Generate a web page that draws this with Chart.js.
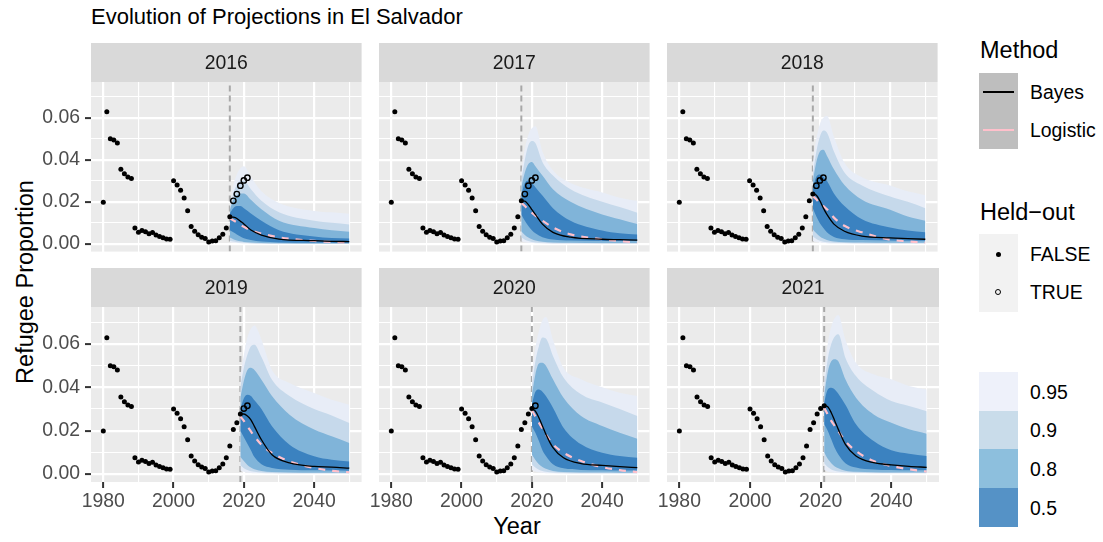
<!DOCTYPE html>
<html><head><meta charset="utf-8">
<script src="https://cdn.jsdelivr.net/npm/chart.js@4.4.1/dist/chart.umd.min.js"></script>
<style>
html,body{margin:0;padding:0;background:#fff;}
body{width:1103px;height:542px;position:relative;overflow:hidden;font-family:"Liberation Sans",Arial,Helvetica,sans-serif;}
canvas{position:absolute;}
.t{position:absolute;white-space:nowrap;color:#000;}
.box{position:absolute;}
</style></head><body>
<div class="t" id="title" style="left:91px;top:2px;font-size:22px;line-height:30px;">Evolution of Projections in El Salvador</div>
<div class="t" style="left:25px;top:282px;font-size:23.5px;line-height:28px;transform:translate(-50%,-50%) rotate(-90deg);">Refugee Proportion</div>
<div class="t" style="left:517px;top:526px;font-size:23.5px;line-height:28px;transform:translate(-50%,-50%);">Year</div>

<div class="t" style="left:980px;top:36px;font-size:23.5px;line-height:28px;">Method</div>
<div class="box" style="left:979px;top:73px;width:39px;height:76px;background:#bebebe;"></div>
<div class="box" style="left:983px;top:91px;width:31px;height:2px;background:#000;"></div>
<div class="box" style="left:983px;top:129px;width:31px;height:2px;background:#ffc0cb;"></div>
<div class="t" style="left:1030px;top:80px;font-size:19.4px;line-height:24px;">Bayes</div>
<div class="t" style="left:1030px;top:118px;font-size:19.4px;line-height:24px;">Logistic</div>

<div class="t" style="left:980px;top:198px;font-size:23.5px;line-height:28px;">Held&#8722;out</div>
<div class="box" style="left:979px;top:234px;width:39px;height:78px;background:#f2f2f2;"></div>
<div class="box" style="left:996px;top:252px;width:5px;height:5px;border-radius:50%;background:#000;"></div>
<div class="box" style="left:995px;top:289px;width:4px;height:4px;border-radius:50%;border:1.4px solid #000;"></div>
<div class="t" style="left:1030px;top:242px;font-size:19.4px;line-height:24px;">FALSE</div>
<div class="t" style="left:1030px;top:280px;font-size:19.4px;line-height:24px;">TRUE</div>

<div class="box" style="left:979px;top:372px;width:39px;height:39px;background:#eef1fa;"></div>
<div class="box" style="left:979px;top:411px;width:39px;height:38px;background:#c9dcea;"></div>
<div class="box" style="left:979px;top:449px;width:39px;height:39px;background:#8dbfdd;"></div>
<div class="box" style="left:979px;top:488px;width:39px;height:39px;background:#5592c6;"></div>
<div class="t" style="left:1030px;top:380px;font-size:19.4px;line-height:24px;">0.95</div>
<div class="t" style="left:1030px;top:418px;font-size:19.4px;line-height:24px;">0.9</div>
<div class="t" style="left:1030px;top:457px;font-size:19.4px;line-height:24px;">0.8</div>
<div class="t" style="left:1030px;top:496px;font-size:19.4px;line-height:24px;">0.5</div>

<script>
// ---------------- DATA ----------------
const obsYears = [1980,1981,1982,1983,1984,1985,1986,1987,1988,1989,1990,1991,1992,1993,1994,1995,1996,1997,1998,1999,
  2000,2001,2002,2003,2004,2005,2006,2007,2008,2009,2010,2011,2012,2013,2014,2015,2016,2017,2018,2019,2020,2021];
const obsValues = [0.0198,0.0629,0.0500,0.0495,0.0480,0.0355,0.0334,0.0318,0.0311,0.0075,0.0055,0.0063,0.0058,0.0048,0.0054,0.0042,0.0035,0.0029,0.0023,0.0022,
  0.0300,0.0280,0.0255,0.0218,0.0158,0.0083,0.0060,0.0043,0.0032,0.0025,0.0009,0.0014,0.0015,0.0029,0.0046,0.0075,0.0129,0.0205,0.0237,0.0277,0.0302,0.0315];

const panelYears = [2016,2017,2018,2019,2020,2021];

const fcYears = [
  [2016,2017,2018,2019,2020,2022,2025,2030,2040,2045,2050],
  [2017,2018,2019,2020,2021,2023,2026,2031,2040,2045,2050],
  [2018,2019,2020,2021,2022,2024,2027,2032,2040,2045,2050],
  [2019,2020,2021,2022,2023,2025,2028,2033,2040,2045,2050],
  [2020,2021,2022,2023,2024,2026,2029,2034,2040,2045,2050],
  [2021,2022,2023,2024,2025,2027,2030,2035,2040,2045,2050]
];
const u95 = [
  [0.019,0.028,0.033,0.036,0.037,0.032,0.025,0.0195,0.0157,0.015,0.0143],
  [0.034,0.045,0.052,0.055,0.056,0.044,0.035,0.029,0.0245,0.022,0.0205],
  [0.038,0.050,0.057,0.060,0.061,0.051,0.0386,0.0317,0.0278,0.025,0.0232],
  [0.045,0.055,0.063,0.067,0.0685,0.062,0.048,0.042,0.0374,0.0343,0.032],
  [0.045,0.058,0.066,0.071,0.0725,0.062,0.049,0.0437,0.040,0.0375,0.036],
  [0.045,0.060,0.068,0.072,0.0734,0.062,0.0514,0.046,0.0437,0.0406,0.039]
];
const u90 = [
  [0.017,0.024,0.028,0.030,0.030,0.026,0.0205,0.015,0.011,0.010,0.0092],
  [0.030,0.040,0.047,0.049,0.048,0.039,0.0325,0.026,0.020,0.0175,0.0148],
  [0.033,0.044,0.051,0.054,0.053,0.044,0.034,0.0278,0.0225,0.020,0.017],
  [0.040,0.049,0.055,0.059,0.0597,0.054,0.0435,0.036,0.030,0.027,0.0235],
  [0.040,0.052,0.059,0.063,0.0625,0.0545,0.0445,0.0368,0.033,0.030,0.0268],
  [0.040,0.053,0.060,0.0635,0.0645,0.0537,0.0452,0.0383,0.0337,0.0314,0.029]
];
const u80 = [
  [0.016,0.021,0.023,0.024,0.024,0.021,0.0165,0.011,0.0075,0.0065,0.0058],
  [0.027,0.034,0.038,0.039,0.037,0.0325,0.026,0.020,0.014,0.0117,0.0094],
  [0.030,0.039,0.044,0.0448,0.042,0.0355,0.028,0.021,0.0163,0.013,0.011],
  [0.035,0.043,0.048,0.049,0.048,0.0435,0.036,0.0274,0.0205,0.0174,0.0143],
  [0.036,0.046,0.051,0.0514,0.050,0.0437,0.0352,0.0268,0.0222,0.019,0.0163],
  [0.036,0.047,0.052,0.053,0.052,0.0437,0.0352,0.0275,0.0237,0.0206,0.0186]
];
const u50 = [
  [0.0145,0.017,0.018,0.018,0.017,0.0145,0.011,0.0065,0.0035,0.0028,0.0025],
  [0.023,0.029,0.030,0.029,0.027,0.023,0.017,0.011,0.0063,0.005,0.0045],
  [0.026,0.032,0.033,0.032,0.030,0.024,0.018,0.0117,0.0078,0.0063,0.0055],
  [0.030,0.035,0.0366,0.036,0.034,0.030,0.022,0.0135,0.0082,0.0066,0.0058],
  [0.032,0.038,0.039,0.038,0.036,0.0306,0.0214,0.0137,0.0098,0.0083,0.0075],
  [0.033,0.039,0.0398,0.039,0.037,0.032,0.023,0.0152,0.011,0.0094,0.0083]
];
const l50 = [
  [0.0065,0.0055,0.0045,0.0035,0.0027,0.0018,0.0011,0.0007,0.0005,0.0005,0.0005],
  [0.014,0.011,0.0085,0.0065,0.005,0.0032,0.0021,0.0016,0.0014,0.0013,0.0013],
  [0.017,0.013,0.0098,0.0075,0.0055,0.0033,0.0022,0.0018,0.0016,0.0015,0.0015],
  [0.020,0.017,0.014,0.011,0.0078,0.0045,0.0028,0.002,0.0017,0.0016,0.0015],
  [0.022,0.019,0.0152,0.011,0.0083,0.0045,0.0026,0.0019,0.0017,0.0016,0.0016],
  [0.023,0.020,0.016,0.012,0.009,0.005,0.003,0.0021,0.0018,0.0017,0.0017]
];
const l80 = [
  [0.003,0.0022,0.0016,0.0012,0.0009,0.0006,0.0004,0.0003,0.0002,0.0002,0.0002],
  [0.006,0.0042,0.003,0.0022,0.0016,0.001,0.0007,0.0005,0.0004,0.0004,0.0004],
  [0.007,0.005,0.0035,0.0025,0.0018,0.0011,0.0008,0.0006,0.0005,0.0005,0.0005],
  [0.008,0.006,0.0042,0.003,0.0022,0.0014,0.0009,0.0007,0.0006,0.0006,0.0005],
  [0.009,0.0065,0.0045,0.0032,0.0024,0.0014,0.0009,0.0007,0.0007,0.0006,0.0006],
  [0.010,0.007,0.005,0.0035,0.0026,0.0015,0.001,0.0008,0.0007,0.0007,0.0007]
];
const l90 = [
  [0.0015,0.0011,0.0008,0.0006,0.0005,0.0003,0.0002,0.0002,0.0001,0.0001,0.0001],
  [0.003,0.002,0.0013,0.0009,0.0007,0.0005,0.0003,0.0003,0.0002,0.0002,0.0002],
  [0.0035,0.0023,0.0015,0.001,0.0008,0.0005,0.0004,0.0003,0.0003,0.0003,0.0003],
  [0.004,0.0027,0.0018,0.0013,0.001,0.0007,0.0005,0.0004,0.0004,0.0004,0.0004],
  [0.0045,0.003,0.002,0.0014,0.001,0.0007,0.0005,0.0004,0.0004,0.0004,0.0004],
  [0.005,0.0032,0.0021,0.0015,0.0011,0.0008,0.0006,0.0005,0.0005,0.0005,0.0005]
];
const l95 = [
  [0.0006,0.0005,0.0004,0.0003,0.0002,0.0002,0.0001,0.0001,0.0001,0.0001,0.0001],
  [0.0012,0.0008,0.0005,0.0004,0.0003,0.0002,0.0001,0.0001,0.0001,0.0001,0.0001],
  [0.0014,0.0009,0.0006,0.0004,0.0003,0.0002,0.0002,0.0001,0.0001,0.0001,0.0001],
  [0.0016,0.001,0.0007,0.0005,0.0004,0.0003,0.0002,0.0002,0.0002,0.0002,0.0002],
  [0.0018,0.0011,0.0008,0.0006,0.0004,0.0003,0.0002,0.0002,0.0002,0.0002,0.0002],
  [0.002,0.0012,0.0008,0.0006,0.0005,0.0003,0.0003,0.0002,0.0002,0.0002,0.0002]
];
const bayes = [
  [0.0129,0.0127,0.0121,0.0108,0.0095,0.0066,0.0042,0.0023,0.0015,0.0012,0.0011],
  [0.0205,0.0203,0.0187,0.0163,0.014,0.0094,0.0055,0.0032,0.0022,0.002,0.0018],
  [0.0237,0.0232,0.0205,0.017,0.014,0.0094,0.006,0.0037,0.0028,0.0025,0.0022],
  [0.0277,0.0277,0.0268,0.025,0.022,0.0158,0.0089,0.0051,0.0035,0.0032,0.0027],
  [0.0302,0.029,0.026,0.0222,0.0183,0.0122,0.0075,0.0048,0.004,0.0034,0.0029],
  [0.0315,0.031,0.0283,0.0245,0.0206,0.0137,0.0083,0.0052,0.0042,0.0035,0.0031]
];
const logistic = [
  [0.0122,0.0112,0.0102,0.0091,0.0081,0.0065,0.0049,0.0031,0.0014,0.0009,0.0006],
  [0.0195,0.018,0.0164,0.0148,0.0135,0.011,0.0078,0.0045,0.0022,0.0013,0.0006],
  [0.0228,0.0212,0.0194,0.018,0.0165,0.0125,0.0086,0.0055,0.002,0.0012,0.0006],
  [0.0266,0.0245,0.022,0.0197,0.0174,0.0135,0.0097,0.0058,0.0028,0.0015,0.0008],
  [0.0294,0.0266,0.0237,0.021,0.0183,0.0137,0.0098,0.006,0.0032,0.0018,0.0009],
  [0.0306,0.0275,0.0245,0.0222,0.0198,0.0152,0.0106,0.006,0.0037,0.0022,0.0011]
];

const xMajorTicks = [1980, 2000, 2020, 2040];
const xTickLabels = ['1980', '2000', '2020', '2040'];
const xMinorTicks = [1990, 2010, 2030, 2050];
const yMajorTicks = [0, 0.02, 0.04, 0.06];
const yTickLabels = ['0.00', '0.02', '0.04', '0.06'];
const yMinorTicks = [0.01, 0.03, 0.05, 0.07];
const xRange = [1976.5, 2053.5];
const yRange = [-0.00369, 0.07708];

// ---------------- STYLE / LAYOUT ----------------
const bandColors = {b95:'#e8edf7', b90:'#c6d9eb', b80:'#80b4d9', b50:'#3b82c0'};
const colLeft = [91, 379, 667];
const rowTop = [43, 268];
const panelW = 276, stripH = 39, plotH = 175, yAxisW = 91, sideMargin = 12, xAxisH = 32;
const FONT = '"Liberation Sans", Arial, Helvetica, sans-serif';
Chart.defaults.font.family = FONT;

const panelPlugin = {
  id: 'panelBg',
  beforeDraw(chart, args, opts) {
    const {ctx, chartArea: a} = chart;
    ctx.save();
    ctx.fillStyle = '#ebebeb';
    ctx.fillRect(a.left, a.top, a.right - a.left, a.bottom - a.top);
    ctx.fillStyle = '#d9d9d9';
    ctx.fillRect(a.left, 0, a.right - a.left, a.top);
    ctx.fillStyle = '#1a1a1a';
    ctx.font = '19.4px ' + FONT;
    ctx.textAlign = 'center';
    ctx.textBaseline = 'middle';
    ctx.fillText(opts.label, (a.left + a.right) / 2, a.top / 2 + 1);
    ctx.restore();
  }
};

const near = (arr, v) => arr.findIndex(t => Math.abs(t - v) < 1e-9);
const toPts = (xs, ys) => xs.map((x, k) => ({x: x, y: ys[k]}));

function makePanel(i) {
  const col = i % 3, row = Math.floor(i / 3);
  const F = panelYears[i];
  const cv = document.createElement('canvas');
  const yW = col === 0 ? yAxisW : sideMargin;
  const left = colLeft[col] - yW;
  const w = yW + panelW;
  const h = stripH + plotH + (row === 1 ? xAxisH : 0);
  cv.width = w; cv.height = h;
  cv.style.left = left + 'px'; cv.style.top = rowTop[row] + 'px';
  cv.style.width = w + 'px'; cv.style.height = h + 'px';
  document.body.appendChild(cv);

  const filled = [], open = [];
  obsYears.forEach((yr, k) => { (yr <= F ? filled : open).push({x: yr, y: obsValues[k]}); });
  const yrs = fcYears[i];
  const band = (up, lo, color) => ([
    {data: toPts(yrs, up[i]), borderWidth: 0, pointRadius: 0, fill: '+1', backgroundColor: color, cubicInterpolationMode: 'monotone'},
    {data: toPts(yrs, lo[i]), borderWidth: 0, pointRadius: 0, fill: false, backgroundColor: color, cubicInterpolationMode: 'monotone'}
  ]);

  const datasets = [
    {data: filled, showLine: false, pointRadius: 2.5, pointBackgroundColor: '#000', pointBorderWidth: 0},
    {data: open, showLine: false, pointRadius: 2.7, pointBackgroundColor: 'rgba(0,0,0,0)', pointBorderColor: '#000', pointBorderWidth: 1.4},
    {data: toPts(yrs, bayes[i]), borderColor: '#000', borderWidth: 1.3, pointRadius: 0, fill: false, cubicInterpolationMode: 'monotone'},
    {data: toPts(yrs, logistic[i]), borderColor: '#ffc0cb', borderWidth: 2.2, borderDash: [7, 7], pointRadius: 0, fill: false, cubicInterpolationMode: 'monotone'},
    ...band(u50, l50, bandColors.b50),
    ...band(u80, l80, bandColors.b80),
    ...band(u90, l90, bandColors.b90),
    ...band(u95, l95, bandColors.b95),
    {data: [{x: F, y: yRange[0]}, {x: F, y: yRange[1]}], borderColor: '#a8a8a8', borderWidth: 2, borderDash: [6, 4], pointRadius: 0, fill: false}
  ];

  new Chart(cv, {
    type: 'line',
    data: {datasets},
    plugins: [panelPlugin],
    options: {
      responsive: false, animation: false, devicePixelRatio: 1,
      layout: {padding: {top: stripH, left: 0, right: 0, bottom: 0}},
      plugins: {legend: {display: false}, tooltip: {enabled: false}, panelBg: {label: String(F)}},
      scales: {
        x: {
          type: 'linear', min: xRange[0], max: xRange[1],
          afterBuildTicks: s => { s.ticks = xMajorTicks.concat(xMinorTicks).sort((a, b) => a - b).map(v => ({value: v})); },
          afterFit: s => { s.height = row === 1 ? xAxisH : 0; s.paddingLeft = 0; s.paddingRight = 0; },
          ticks: {display: row === 1, autoSkip: false, maxRotation: 0, minRotation: 0, padding: 2, color: '#4d4d4d', font: {size: 19.4},
            callback: v => { const k = near(xMajorTicks, v); return k >= 0 ? xTickLabels[k] : ''; }},
          grid: {color: '#ffffff', lineWidth: c => (c.tick && near(xMajorTicks, c.tick.value) >= 0) ? 2.2 : 1.1,
            drawTicks: row === 1, tickLength: 6, tickWidth: 2,
            tickColor: c => (c.tick && near(xMajorTicks, c.tick.value) >= 0) ? '#333333' : 'rgba(0,0,0,0)'},
          border: {display: false}
        },
        y: {
          type: 'linear', min: yRange[0], max: yRange[1],
          afterBuildTicks: s => { s.ticks = yMajorTicks.concat(yMinorTicks).sort((a, b) => a - b).map(v => ({value: v})); },
          afterFit: s => { s.width = yW; s.paddingTop = 0; s.paddingBottom = 0; },
          ticks: {display: col === 0, autoSkip: false, padding: 5, color: '#4d4d4d', font: {size: 19.4},
            callback: v => { const k = near(yMajorTicks, v); return k >= 0 ? yTickLabels[k] : ''; }},
          grid: {color: '#ffffff', lineWidth: c => (c.tick && near(yMajorTicks, c.tick.value) >= 0) ? 2.2 : 1.1,
            drawTicks: col === 0, tickLength: 6, tickWidth: 2,
            tickColor: c => (c.tick && near(yMajorTicks, c.tick.value) >= 0) ? '#333333' : 'rgba(0,0,0,0)'},
          border: {display: false}
        }
      }
    }
  });
}
for (let i = 0; i < 6; i++) makePanel(i);
</script>
</body></html>
